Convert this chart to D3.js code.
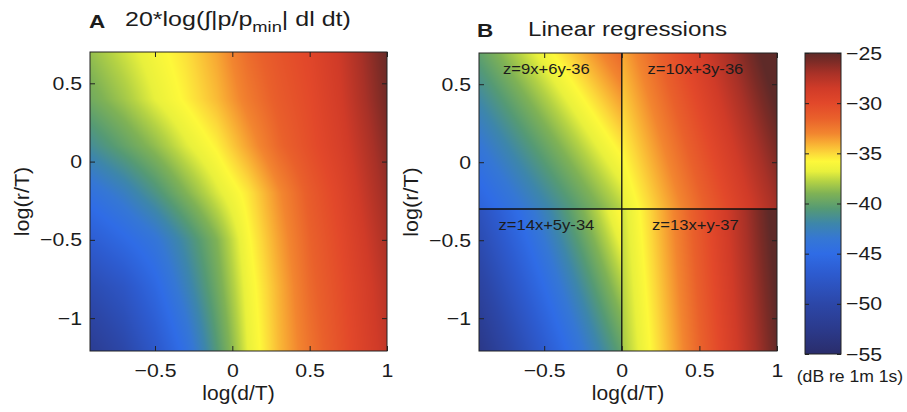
<!DOCTYPE html>
<html>
<head>
<meta charset="utf-8">
<script src="https://cdn.jsdelivr.net/npm/d3@7"></script>
<style>
  body { margin: 0; background: #fff; }
  svg text { font-family: "Liberation Sans", Arial, sans-serif; fill: #1c1c1c; }
</style>
</head>
<body>
<div id="chart"></div>
<script>
// tick values
const xTicks = [-0.5, 0, 0.5, 1];
const yTicks = [-1, -0.5, 0, 0.5];
const cbTicks = [-55, -50, -45, -40, -35, -30, -25];

// panel A: values (dB) at grid nodes
const gridX = [-0.92, -0.7, -0.5, -0.3, -0.1, 0.1, 0.3, 0.5, 0.7, 0.85, 1.0];
const gridY = [0.7, 0.4, 0.1, -0.2, -0.5, -0.8, -1.21];
const gridZ = [
  [-38.5, -37.3, -36.2, -35.2, -33.8, -32.0, -30.8, -29.8, -28.3, -26.8, -25.3],
  [-39.5, -38.2, -36.8, -35.6, -34.3, -32.6, -31.2, -30.1, -28.6, -27.1, -25.6],
  [-41.5, -40.0, -38.6, -37.0, -35.6, -33.7, -31.8, -30.4, -29.0, -27.6, -26.1],
  [-44.3, -42.8, -41.0, -39.0, -37.1, -35.4, -33.2, -31.2, -29.6, -28.1, -26.6],
  [-46.8, -45.3, -43.8, -41.5, -39.0, -36.0, -33.7, -31.6, -30.0, -28.6, -27.1],
  [-49.3, -47.8, -45.5, -42.6, -39.6, -36.4, -34.1, -31.9, -30.3, -29.0, -27.6],
  [-52.0, -50.0, -47.5, -44.5, -40.6, -36.8, -34.3, -32.3, -30.6, -29.3, -28.0]
];

// panel B: linear regressions per quadrant (split at x=0, y=-0.3)
const splitX = 0;
const splitY = -0.3;
const regLabels = ['z=9x+6y-36', 'z=10x+3y-36', 'z=14x+5y-34', 'z=13x+y-37'];
const regA = [9, 10, 14, 13];
const regB = [6, 3, 5, 1];
const regC = [-36, -36, -34, -37];

// colour map (value -> colour), as on the colour bar
const cmapV = [-55, -52.5, -50, -47, -45, -43.5, -42, -40.5, -39, -37.8, -36.8, -35.8, -35, -34, -33, -31.5, -30, -28.5, -27, -25.8, -25];
const cmapC = ['#2a2d6b', '#2b3a8c', '#2c47a8', '#2d5bcf', '#2f6ce6', '#3577d4', '#3d86aa', '#559a74', '#7fb255', '#b4d244',
  '#e8f03c', '#fdf83a', '#fcd83a', '#f8ae34', '#f2852f', '#e9602b', '#e2482a', '#d03b28', '#a83127', '#7a2b26', '#5e2a28'];

const W = 907, H = 412;
const xDomain = [-0.92, 1.0];
const yDomain = [-1.21, 0.7];

const color = d3.scaleLinear().domain(cmapV).range(cmapC).clamp(true);
const fmt = d => String(d).replace('-', '\u2212');

const svg = d3.select('#chart').append('svg')
  .attr('width', W)
  .attr('height', H);

svg.append('rect').attr('width', W).attr('height', H).attr('fill', '#fff');

// the reference text is a bit wider than the font: stretch it horizontally
function stretch(sel, s, rot) {
  sel.each(function () {
    const t = d3.select(this);
    const x = +t.attr('x') || 0, y = +t.attr('y') || 0;
    t.attr('x', 0).attr('y', 0)
      .attr('transform', `translate(${x},${y})${rot ? ` rotate(${rot})` : ''} scale(${s},1)`);
  });
}

function sampleGrid(x, y) {
  const xs = gridX, ys = gridY;
  const i = Math.min(Math.max(d3.bisectRight(xs, x) - 1, 0), xs.length - 2);
  let j = 0;
  while (j < ys.length - 2 && y < ys[j + 1]) j++;
  const tx = Math.min(Math.max((x - xs[i]) / (xs[i + 1] - xs[i]), 0), 1);
  const ty = Math.min(Math.max((y - ys[j]) / (ys[j + 1] - ys[j]), 0), 1);
  const a = gridZ[j][i], b = gridZ[j][i + 1], c = gridZ[j + 1][i], d = gridZ[j + 1][i + 1];
  return (a * (1 - tx) + b * tx) * (1 - ty) + (c * (1 - tx) + d * tx) * ty;
}

function sampleReg(x, y) {
  const k = (y >= splitY ? 0 : 2) + (x >= splitX ? 1 : 0);
  return regA[k] * x + regB[k] * y + regC[k];
}

function heatImage(g, x, y, w, h, fn) {
  const cv = document.createElement('canvas');
  cv.width = w; cv.height = h;
  const ctx = cv.getContext('2d');
  const img = ctx.createImageData(w, h);
  for (let py = 0; py < h; py++) {
    const yv = y.invert(py + 0.5);
    for (let px = 0; px < w; px++) {
      const xv = x.invert(px + 0.5);
      const c = d3.rgb(color(fn(xv, yv)));
      const o = (py * w + px) * 4;
      img.data[o] = c.r; img.data[o + 1] = c.g; img.data[o + 2] = c.b; img.data[o + 3] = 255;
    }
  }
  ctx.putImageData(img, 0, 0);
  g.append('image')
    .attr('width', w).attr('height', h)
    .attr('preserveAspectRatio', 'none')
    .attr('href', cv.toDataURL());
}

function drawAxes(g, x, y, w, h) {
  const clean = s => s.call(a => a.select('.domain').remove())
    .attr('font-size', 19).attr('font-family', null)
    .call(a => a.selectAll('line').attr('stroke', '#222'));
  g.append('g').attr('transform', `translate(0,${h})`)
    .call(d3.axisBottom(x).tickValues(xTicks).tickSize(-5).tickPadding(13).tickFormat(fmt)).call(clean);
  g.append('g')
    .call(d3.axisTop(x).tickValues(xTicks).tickSize(-5).tickFormat('')).call(clean);
  g.append('g')
    .call(d3.axisLeft(y).tickValues(yTicks).tickSize(-5).tickPadding(8).tickFormat(fmt)).call(clean);
  g.append('g').attr('transform', `translate(${w},0)`)
    .call(d3.axisRight(y).tickValues(yTicks).tickSize(-5).tickFormat('')).call(clean);
  g.append('rect').attr('width', w).attr('height', h)
    .attr('fill', 'none').attr('stroke', '#222').attr('stroke-width', 1);
  g.selectAll('.tick text').attr('fill', '#1c1c1c').call(stretch, 1.12);
}

function axisTitles(g, w, h, yLabX) {
  g.append('text').attr('x', w / 2).attr('y', h + 49)
    .attr('text-anchor', 'middle').attr('font-size', 20).text('log(d/T)')
    .call(stretch, 1.05);
  g.append('text').attr('x', yLabX).attr('y', h / 2)
    .attr('text-anchor', 'middle').attr('font-size', 20).text('log(r/T)')
    .call(stretch, 1.08, -90);
}

// ---- panel A ----
const A = { x0: 90, y0: 52, w: 297, h: 299 };
const xA = d3.scaleLinear().domain(xDomain).range([0, A.w]);
const yA = d3.scaleLinear().domain(yDomain).range([A.h, 0]);
const gA = svg.append('g').attr('transform', `translate(${A.x0},${A.y0})`);
heatImage(gA, xA, yA, A.w, A.h, sampleGrid);
drawAxes(gA, xA, yA, A.w, A.h);
axisTitles(gA, A.w, A.h, -61);

const tA = svg.append('text').attr('x', 125).attr('y', 26).attr('font-size', 20.5);
tA.append('tspan').text('20*log(\u222B|p/p');
tA.append('tspan').attr('font-size', 15).attr('dy', 6).text('min');
tA.append('tspan').attr('dy', -6).text('| dl dt)');
tA.call(stretch, 1.22);
svg.append('text').attr('x', 89).attr('y', 28).attr('font-size', 18)
  .attr('font-weight', 'bold').text('A').call(stretch, 1.25);

// ---- panel B ----
const B = { x0: 479, y0: 53, w: 298, h: 298 };
const xB = d3.scaleLinear().domain(xDomain).range([0, B.w]);
const yB = d3.scaleLinear().domain(yDomain).range([B.h, 0]);
const gB = svg.append('g').attr('transform', `translate(${B.x0},${B.y0})`);
heatImage(gB, xB, yB, B.w, B.h, sampleReg);

gB.append('line').attr('x1', xB(splitX)).attr('x2', xB(splitX)).attr('y1', 0).attr('y2', B.h)
  .attr('stroke', '#111').attr('stroke-width', 1.3);
gB.append('line').attr('x1', 0).attr('x2', B.w).attr('y1', yB(splitY)).attr('y2', yB(splitY))
  .attr('stroke', '#111').attr('stroke-width', 1.3);

const quadX = [[xDomain[0], splitX], [splitX, xDomain[1]], [xDomain[0], splitX], [splitX, xDomain[1]]];
const quadTop = [yDomain[1], yDomain[1], splitY, splitY];
gB.selectAll('.reg').data(regLabels).join('text')
  .attr('class', 'reg')
  .attr('x', (d, i) => (xB(quadX[i][0]) + xB(quadX[i][1])) / 2 - 4)
  .attr('y', (d, i) => yB(quadTop[i]) + 21)
  .attr('text-anchor', 'middle').attr('font-size', 15.5)
  .text(d => d)
  .call(stretch, 1.07);

drawAxes(gB, xB, yB, B.w, B.h);
axisTitles(gB, B.w, B.h, -61);

svg.append('text').attr('x', 477).attr('y', 37).attr('font-size', 18)
  .attr('font-weight', 'bold').text('B').call(stretch, 1.25);
svg.append('text').attr('x', 528).attr('y', 36).attr('font-size', 20)
  .text('Linear regressions').call(stretch, 1.21);

// ---- colour bar ----
const CB = { x0: 805, y0: 53, w: 36, h: 301 };
const yC = d3.scaleLinear().domain([-55, -25]).range([CB.h, 0]);
const gC = svg.append('g').attr('transform', `translate(${CB.x0},${CB.y0})`);
const grad = svg.append('defs').append('linearGradient')
  .attr('id', 'cbgrad').attr('x1', 0).attr('x2', 0).attr('y1', 1).attr('y2', 0);
grad.selectAll('stop').data(cmapV).join('stop')
  .attr('offset', d => (d + 55) / 30)
  .attr('stop-color', (d, i) => cmapC[i]);
gC.append('rect').attr('width', CB.w).attr('height', CB.h).attr('fill', 'url(#cbgrad)');
gC.append('g').attr('transform', `translate(${CB.w},0)`)
  .call(d3.axisRight(yC).tickValues(cbTicks).tickSize(-4).tickPadding(5).tickFormat(fmt))
  .call(a => a.select('.domain').remove())
  .attr('font-size', 19).attr('font-family', null);
gC.append('g')
  .call(d3.axisLeft(yC).tickValues(cbTicks).tickSize(-4).tickFormat(''))
  .call(a => a.select('.domain').remove());
gC.selectAll('.tick line').attr('stroke', '#222');
gC.selectAll('.tick text').attr('fill', '#1c1c1c').call(stretch, 1.12);
gC.append('rect').attr('width', CB.w).attr('height', CB.h)
  .attr('fill', 'none').attr('stroke', '#222');
svg.append('text').attr('x', 850).attr('y', 382).attr('text-anchor', 'middle')
  .attr('font-size', 16).text('(dB re 1m 1s)').call(stretch, 1.1);
</script>
</body>
</html>
